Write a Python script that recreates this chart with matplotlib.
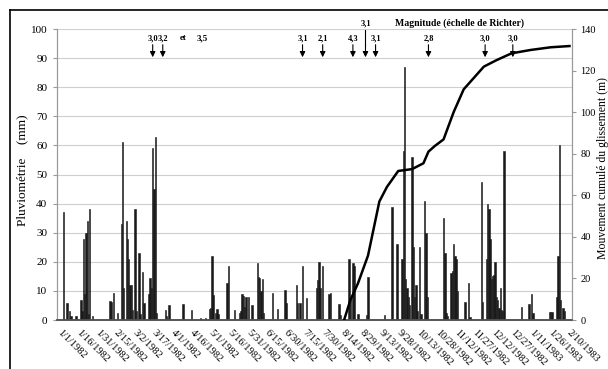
import numpy as np
import pandas as pd
import matplotlib
matplotlib.use('Agg')
from matplotlib import pyplot as plt
from matplotlib.lines import Line2D

plt.rcParams['font.family'] = ['Liberation Serif', 'DejaVu Serif']

# pluviometrie journaliere : jour depuis le 1/1/1982, mm
rain_day = [1, 4, 6, 7, 11,
            15, 16, 17, 18, 19, 20, 21, 22, 24,
            38, 39, 41, 44, 47, 48, 49, 51, 52, 53, 54, 55, 56, 58, 59, 61, 62, 64, 65,
            69, 70, 71, 72, 73, 74, 75,
            82, 83, 85, 96, 103, 110, 114,
            117, 118, 119, 120, 122, 123, 124,
            131, 132, 137, 141, 142, 143, 144, 145, 146, 148, 151, 155, 156, 157, 158, 159, 160,
            167, 171, 177, 178, 186, 187, 189, 191, 194,
            202, 203, 204, 205, 207, 212, 213, 220, 221, 228, 229, 231, 232, 235, 242, 243,
            256, 262, 266, 270, 271, 272, 273, 274, 275, 276, 278, 279, 280, 281, 282, 284, 285,
            288, 289, 290,
            303, 304, 305, 306, 309, 310, 311, 312, 313, 314, 320, 323, 324,
            333, 334, 337, 338, 339, 340, 341, 342, 343, 344, 345, 346, 347, 348, 349, 350, 351,
            365, 371, 373, 374, 387, 388, 389, 393, 394, 395, 396, 398, 399]
rain_mm = [37, 5.7, 3, 1.5, 1.3,
           7, 3, 28, 9, 30, 34, 2, 38, 1.5,
           6.6, 6.3, 9.2, 2.5, 33, 61, 11, 34, 28, 21, 12, 12, 3.5, 38, 3, 23, 2, 16.5, 6,
           9, 14.5, 11, 59, 45, 63, 2.5,
           3.4, 1.5, 5, 5.5, 3.4, 0.8, 0.8,
           3.8, 4, 22, 8.5, 2.3, 3.7, 2,
           12.6, 18.7, 3.4, 2.3, 3.2, 9, 8.4, 4.6, 8, 7.8, 5, 19.7, 14.9, 14.4, 10, 14, 2.3,
           9.2, 3.7, 10.3, 5.7, 12, 5.7, 6, 18.7, 7.7,
           11, 13.7, 20, 11, 18.7, 9, 9.2, 5.4, 1.7, 20.8, 8, 19.7, 18.6, 1.9, 1.8, 14.9,
           1.8, 39, 26, 21, 58, 87, 14, 11, 8, 5, 56, 25, 8, 12, 3, 25, 2,
           41, 30, 8,
           35, 23, 2.5, 1.5, 16, 17, 26, 22, 21, 10, 6.3, 12.6, 1.1,
           47.5, 6.3, 21, 40, 38, 28, 14, 15, 15.5, 20, 8, 7, 4, 11, 3.4, 3, 58,
           4.4, 5.4, 9, 2.3, 2.6, 2.6, 2.6, 8, 22, 60, 7, 4, 3]

# mouvement cumule du glissement (m)
move_day = [224, 229, 235, 243, 252, 258, 267, 278, 287, 291, 296, 303, 311, 319,
            335, 345, 357, 372, 388, 403]
move_m = [0, 9.6, 17.6, 31, 57, 64, 71.7, 72.6, 75.4, 81, 83.7, 86.9, 100, 111,
          121.9, 125, 128.3, 129.9, 131.2, 131.8]

# seismes
quake_day = [72, 80, 191, 207, 231, 241, 249, 291, 336, 358]
quake_mag = ['3,0', '3,2', '3,1', '2,1', '4,3', '3,1', '3,1', '2,8', '3,0', '3,0']

tick_dates = pd.date_range('1982-01-01', '1983-02-10', freq='15D')
tick_labels = [f'{d.month}/{d.day}/{d.year}' for d in tick_dates]
tick_pos = (tick_dates - tick_dates[0]).days

fig = plt.figure(figsize=(6.08, 3.69), dpi=100)
ax = fig.add_axes([57 / 608, 49 / 369, 515 / 608, 291 / 369])
ax2 = ax.twinx()

ax.bar(rain_day, rain_mm, width=1.1, color='#1a1a1a', edgecolor='#1a1a1a', linewidth=0.4, zorder=3)
ax2.plot(move_day, move_m, color='black', linewidth=1.8, zorder=4)

ax.set_xlim(-4, 405)
ax.set_ylim(0, 100)
ax2.set_ylim(0, 140)
ax.set_yticks(np.arange(0, 101, 10))
ax2.set_yticks(np.arange(0, 141, 20))
ax.yaxis.grid(True, color='#cfcfcf', linewidth=0.8, zorder=0)
ax.set_axisbelow(True)

ax.set_xticks(tick_pos)
ax.set_xticklabels(tick_labels, rotation=-45, ha='left', va='top', rotation_mode='anchor', fontsize=7.5)
ax.tick_params(axis='x', length=0, pad=6)
ax.tick_params(axis='y', labelsize=8, color='#999999', length=3, pad=4)
ax2.tick_params(axis='y', labelsize=7.5, color='#999999', length=3, pad=3)

for a in (ax, ax2):
    a.spines['top'].set_visible(False)
    a.spines['left'].set_color('#999999')
    a.spines['right'].set_color('#999999')
    a.spines['bottom'].set_color('#555555')
    a.spines['bottom'].set_linewidth(1.2)

fig.text(22 / 608, 1 - 170 / 369, 'Pluviométrie    (mm)', rotation=90,
         ha='center', va='center', fontsize=9.5)
fig.text(603 / 608, 1 - 168 / 369, 'Mouvement cumulé du glissement (m)', rotation=90,
         ha='center', va='center', fontsize=8.5)

# fleches des seismes
for d, m in zip(quake_day, quake_mag):
    if d == 241:
        ax.text(d, 100.6, m, ha='center', va='bottom', fontsize=6, fontweight='bold', clip_on=False)
        ax.plot([d, d], [99.6, 94.5], color='black', linewidth=0.8, clip_on=False, zorder=5)
    else:
        ax.text(d, 95.5, m, ha='center', va='bottom', fontsize=6, fontweight='bold', zorder=5)
    ax.annotate('', xy=(d, 90.3), xytext=(d, 94.6),
                arrowprops=dict(arrowstyle='-|>', color='black', lw=0.8, mutation_scale=8,
                                shrinkA=0, shrinkB=0), zorder=5)
ax.text(96, 95.5, 'et', ha='center', va='bottom', fontsize=6.5, fontweight='bold')
ax.text(111, 95.5, '3,5', ha='center', va='bottom', fontsize=6.5, fontweight='bold')
ax.text(316, 100.3, 'Magnitude (échelle de Richter)', ha='center', va='bottom',
        fontsize=7, fontweight='bold', clip_on=False)

# cadre
fig.add_artist(Line2D([10 / 608, 10 / 608], [0, 1 - 10 / 369], color='black', linewidth=1.2))
fig.add_artist(Line2D([10 / 608, 1], [1 - 10 / 369, 1 - 10 / 369], color='black', linewidth=1.2))

fig.savefig('out.png', dpi=100)
